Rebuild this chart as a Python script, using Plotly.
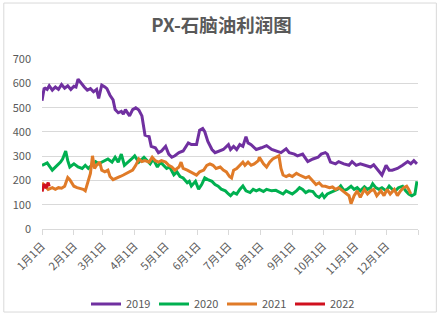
import pandas as pd
import plotly.graph_objects as go

# ---- data (day-of-year offsets from Jan 1, values) ----
days19 = [0,2,3,5,7,10,13,16,19,22,25,28,31,33,35,39,41,44,47,50,53,55,58,61,63,66,69,71,74,77,79,81,84,85,88,91,94,97,100,104,106,110,113,116,120,123,126,129,133,137,142,145,150,153,156,158,161,165,168,173,176,181,183,186,189,192,195,198,200,203,208,213,218,223,227,232,237,240,245,248,253,258,263,268,271,275,277,280,285,288,293,298,301,305,309,314,319,322,327,330,334,337,340,345,350,355,358,361,364]
vals19 = [528,578,580,575,590,572,585,575,595,580,590,575,588,585,617,593,585,572,578,565,575,538,593,585,578,551,532,492,479,485,473,492,470,466,492,499,490,466,387,381,341,335,315,322,341,309,296,302,315,322,355,348,348,407,414,401,361,328,315,322,328,348,328,341,328,348,341,381,355,348,328,335,344,328,322,315,331,315,309,302,309,278,289,296,309,315,309,276,269,278,269,263,278,263,269,263,256,265,236,223,263,243,243,250,263,278,269,282,269]

days20 = [0,5,10,15,18,20,23,25,27,31,35,39,42,45,48,52,55,58,61,64,68,71,74,77,80,84,87,90,94,99,102,105,108,112,115,118,121,124,128,131,134,137,141,143,145,149,152,155,158,161,165,168,171,174,178,181,183,186,189,192,195,198,202,205,208,211,215,218,223,227,231,234,237,240,243,247,250,253,256,259,263,266,269,272,274,277,280,284,287,290,293,296,300,303,306,309,313,316,319,321,324,327,330,334,337,340,343,346,350,353,356,359,362,364]
vals20 = [263,273,243,263,276,289,322,282,256,269,256,250,263,250,263,278,269,276,282,289,276,296,276,309,263,276,289,302,276,296,282,269,289,256,276,263,250,256,224,236,217,211,191,197,178,197,165,184,211,204,197,184,177,165,158,145,138,151,145,164,178,158,151,164,158,164,155,164,158,160,151,145,158,151,145,158,171,164,151,158,155,138,131,145,131,145,151,158,164,178,160,164,177,164,171,158,175,164,171,187,171,164,171,158,177,164,158,171,177,158,145,138,145,197]

days21 = [0,3,6,10,13,16,19,22,25,27,31,34,37,40,42,44,47,49,51,53,56,58,61,64,66,69,72,76,79,82,85,88,91,94,97,100,104,107,110,113,116,120,123,126,129,133,135,137,141,144,147,150,153,157,160,163,166,169,173,176,179,182,184,186,189,192,195,197,200,203,206,210,211,215,218,221,224,227,230,232,234,237,240,243,247,250,253,256,259,263,266,269,272,275,279,282,285,288,292,295,298,300,303,306,309,313,316,319,322,325,329,332,335,338,342,345,348,351,354,356,358]
vals21 = [191,177,164,171,164,171,169,177,213,204,177,171,169,164,158,191,230,302,250,263,276,243,236,243,217,204,211,217,223,230,236,243,263,289,278,282,276,296,282,276,282,276,263,256,243,256,276,250,243,236,230,223,236,243,263,269,263,250,256,243,236,217,211,243,250,263,276,263,276,263,269,282,296,269,256,276,289,296,302,250,223,217,223,217,230,223,217,211,217,197,184,191,178,177,171,174,164,171,158,151,138,105,138,158,131,164,145,158,164,138,158,138,164,145,164,138,158,171,177,164,145]

days22 = [0,2,4,6,7]
vals22 = [155,185,170,192,176]

series_names = ["2019", "2020", "2021", "2022"]
series_colors = ["#7030A0", "#00B050", "#E07B28", "#D0101E"]
month_labels = ["1月1日","2月1日","3月1日","4月1日","5月1日","6月1日",
                "7月1日","8月1日","9月1日","10月1日","11月1日","12月1日"]

base = pd.Timestamp("2021-01-01")
def to_dates(days):
    return [base + pd.Timedelta(days=d) for d in days]

FONT = "Noto Sans CJK SC"
GRAY = "#595959"
GRID = "#D9D9D9"

fig = go.Figure()
for name, color, d, v in zip(series_names, series_colors,
                             [days19, days20, days21, days22],
                             [vals19, vals20, vals21, vals22]):
    fig.add_trace(go.Scatter(x=to_dates(d), y=v, mode="lines", name=name,
                             line=dict(color=color, width=3)))

tickvals = [pd.Timestamp(2021, m, 1) for m in range(1, 13)] + [pd.Timestamp(2022, 1, 1)]
ticktext = month_labels + [""]

fig.update_layout(
    width=444, height=325,
    margin=dict(l=39, r=26, t=59, b=88),
    paper_bgcolor="white", plot_bgcolor="white",
    font=dict(family=FONT, color=GRAY, size=11),
    title=dict(text="<b>PX-石脑油利润图</b>", x=0.499, xref="container", xanchor="center",
               y=1 - 25.5 / 325, yref="container", yanchor="middle",
               font=dict(family=FONT, size=18.5, color=GRAY)),
    showlegend=True,
    legend=dict(orientation="h", x=0.5, xref="container", xanchor="center",
                y=1 - 304 / 325, yref="container", yanchor="middle",
                font=dict(family=FONT, size=11, color=GRAY),
                entrywidth=23, entrywidthmode="pixels", itemwidth=30,
                bgcolor="rgba(0,0,0,0)"),
    xaxis=dict(type="date", range=[pd.Timestamp(2021, 1, 1), pd.Timestamp(2022, 1, 1)],
               tickvals=tickvals, ticktext=ticktext, tickangle=-45,
               showgrid=False, showline=True, linecolor=GRID, linewidth=1,
               ticks="outside", ticklen=5, tickcolor=GRID,
               tickfont=dict(family=FONT, size=11, color=GRAY), zeroline=False),
    yaxis=dict(range=[0, 700], dtick=100, showgrid=True, gridcolor=GRID, gridwidth=1,
               showline=False, zeroline=False, ticks="", ticklabelstandoff=10,
               tickfont=dict(family=FONT, size=11, color=GRAY)),
    shapes=[dict(type="rect", xref="paper", yref="paper",
                 x0=(0.5 - 39) / 379, x1=(436.5 - 39) / 379,
                 y0=(237 - 323.5) / 178, y1=(237 - 0.5) / 178,
                 line=dict(color=GRID, width=1), fillcolor="rgba(0,0,0,0)", layer="below")],
)

fig.write_html("out.html")
